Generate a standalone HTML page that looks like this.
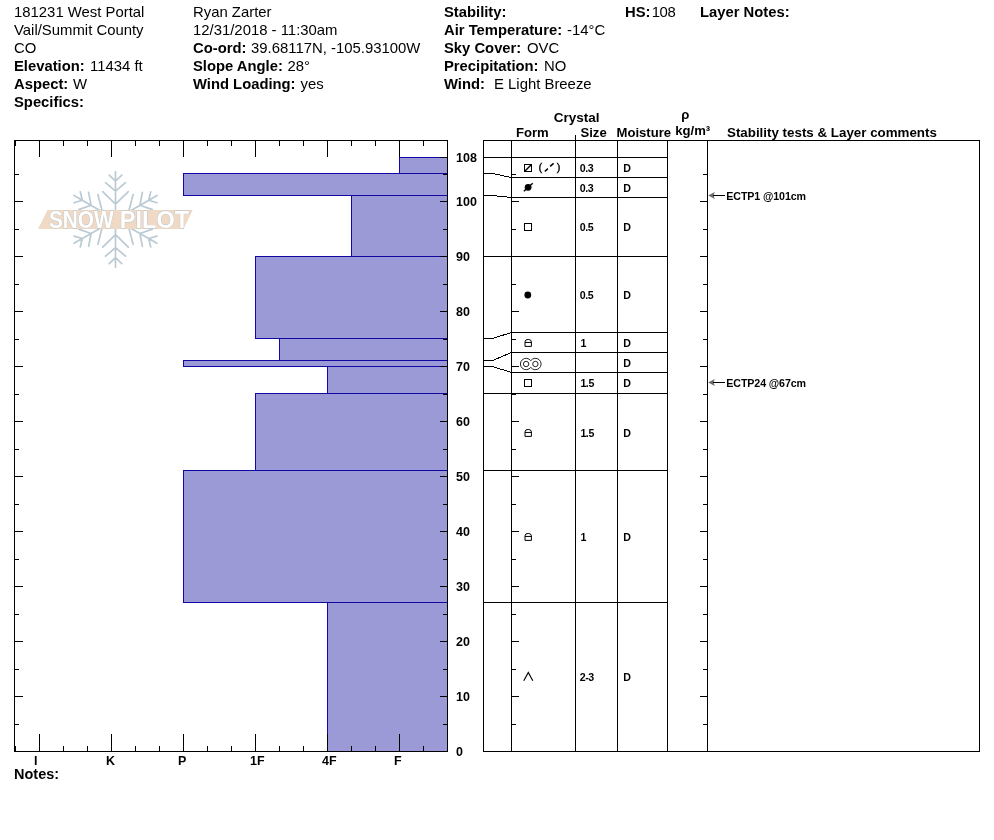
<!DOCTYPE html>
<html lang="en"><head><meta charset="utf-8"><title>Snow Profile</title>
<style>
html,body{margin:0;padding:0;background:#fff;overflow:hidden}
svg{display:block;position:absolute;left:0;top:0}
text{font-family:"Liberation Sans",Arial,Helvetica,sans-serif;fill:#000}
.h{font-size:14.9px}
.hb{font-size:14.8px;font-weight:bold}
.ax{font-size:12.5px;font-weight:bold}
.th{font-size:13.1px;font-weight:bold}
.c{font-size:10.67px;font-weight:bold;letter-spacing:-0.45px}
.n{font-size:10.67px;font-weight:bold;letter-spacing:-0.1px}
.ln{stroke:#000;stroke-width:1;shape-rendering:crispEdges;fill:none}
.bar{fill:#9b99d6;stroke:#1008a0;stroke-width:1;shape-rendering:crispEdges}
.sym{stroke:#000;stroke-width:1;fill:none}
</style></head><body>
<svg width="994" height="840" viewBox="0 0 994 840">
<rect x="0" y="0" width="994" height="840" fill="#fff"/>
<text transform="translate(14 16.8) scale(1 1.045)" class="h">181231 West Portal</text>
<text transform="translate(14 34.8) scale(1 1.045)" class="h">Vail/Summit County</text>
<text transform="translate(14 52.8) scale(1 1.045)" class="h">CO</text>
<text transform="translate(14 70.8) scale(1 1.045)" class="hb">Elevation:</text>
<text transform="translate(90 70.8) scale(1 1.045)" class="h">11434 ft</text>
<text transform="translate(14 88.8) scale(1 1.045)" class="hb">Aspect:</text>
<text transform="translate(73 88.8) scale(1 1.045)" class="h">W</text>
<text transform="translate(14 106.8) scale(1 1.045)" class="hb">Specifics:</text>
<text transform="translate(193 16.8) scale(1 1.045)" class="h">Ryan Zarter</text>
<text transform="translate(193 34.8) scale(1 1.045)" class="h">12/31/2018 - 11:30am</text>
<text transform="translate(193 52.8) scale(1 1.045)" class="hb">Co-ord:</text>
<text transform="translate(251 52.8) scale(1 1.045)" class="h">39.68117N, -105.93100W</text>
<text transform="translate(193 70.8) scale(1 1.045)" class="hb">Slope Angle:</text>
<text transform="translate(287.5 70.8) scale(1 1.045)" class="h">28°</text>
<text transform="translate(193 88.8) scale(1 1.045)" class="hb">Wind Loading:</text>
<text transform="translate(300.5 88.8) scale(1 1.045)" class="h">yes</text>
<text transform="translate(444 16.8) scale(1 1.045)" class="hb">Stability:</text>
<text transform="translate(444 34.8) scale(1 1.045)" class="hb">Air Temperature:</text>
<text transform="translate(567 34.8) scale(1 1.045)" class="h">-14°C</text>
<text transform="translate(444 52.8) scale(1 1.045)" class="hb">Sky Cover:</text>
<text transform="translate(527 52.8) scale(1 1.045)" class="h">OVC</text>
<text transform="translate(444 70.8) scale(1 1.045)" class="hb">Precipitation:</text>
<text transform="translate(544 70.8) scale(1 1.045)" class="h">NO</text>
<text transform="translate(444 88.8) scale(1 1.045)" class="hb">Wind:</text>
<text transform="translate(494 88.8) scale(1 1.045)" class="h">E Light Breeze</text>
<text transform="translate(625 16.8) scale(1 1.045)" class="hb">HS:</text>
<text transform="translate(651.7 16.8) scale(1 1.045)" class="h" style="letter-spacing:-0.4px">108</text>
<text transform="translate(700 16.8) scale(1 1.045)" class="hb">Layer Notes:</text>
<g stroke="#bccad3" stroke-width="1.7" stroke-linecap="round" fill="none">
<g transform="translate(115.5 219.4) rotate(0)">
<path d="M0,-3 V-47.9 M0,-38.3 L-6.3,-44.3 M0,-38.3 L6.3,-44.3 M0,-28.2 L-10,-36.8 M0,-28.2 L10,-36.8 M0,-15.2 L-12.8,-27.7 M0,-15.2 L12.8,-27.7"/>
</g>
<g transform="translate(115.5 219.4) rotate(60)">
<path d="M0,-3 V-47.9 M0,-38.3 L-6.3,-44.3 M0,-38.3 L6.3,-44.3 M0,-28.2 L-10,-36.8 M0,-28.2 L10,-36.8 M0,-15.2 L-12.8,-27.7 M0,-15.2 L12.8,-27.7"/>
</g>
<g transform="translate(115.5 219.4) rotate(120)">
<path d="M0,-3 V-47.9 M0,-38.3 L-6.3,-44.3 M0,-38.3 L6.3,-44.3 M0,-28.2 L-10,-36.8 M0,-28.2 L10,-36.8 M0,-15.2 L-12.8,-27.7 M0,-15.2 L12.8,-27.7"/>
</g>
<g transform="translate(115.5 219.4) rotate(180)">
<path d="M0,-3 V-47.9 M0,-38.3 L-6.3,-44.3 M0,-38.3 L6.3,-44.3 M0,-28.2 L-10,-36.8 M0,-28.2 L10,-36.8 M0,-15.2 L-12.8,-27.7 M0,-15.2 L12.8,-27.7"/>
</g>
<g transform="translate(115.5 219.4) rotate(240)">
<path d="M0,-3 V-47.9 M0,-38.3 L-6.3,-44.3 M0,-38.3 L6.3,-44.3 M0,-28.2 L-10,-36.8 M0,-28.2 L10,-36.8 M0,-15.2 L-12.8,-27.7 M0,-15.2 L12.8,-27.7"/>
</g>
<g transform="translate(115.5 219.4) rotate(300)">
<path d="M0,-3 V-47.9 M0,-38.3 L-6.3,-44.3 M0,-38.3 L6.3,-44.3 M0,-28.2 L-10,-36.8 M0,-28.2 L10,-36.8 M0,-15.2 L-12.8,-27.7 M0,-15.2 L12.8,-27.7"/>
</g>
</g>
<polygon points="47.5,210 192.7,210 183.6,229 38,229" fill="#f0dac6"/>
<text transform="translate(0 227.5) scale(1 1.15)" y="0" style="font-size:20px;font-weight:bold;fill:#fff;stroke:#b4c0ca;stroke-width:0.7px;paint-order:stroke"><tspan x="48.9" textLength="64.8" lengthAdjust="spacingAndGlyphs">SNOW</tspan> <tspan x="119.8" textLength="69.3" lengthAdjust="spacingAndGlyphs">PILOT</tspan></text>
<rect class="bar" x="399.5" y="157.5" width="48" height="16"/>
<rect class="bar" x="183.5" y="173.5" width="264" height="22"/>
<rect class="bar" x="351.5" y="195.5" width="96" height="61"/>
<rect class="bar" x="255.5" y="256.5" width="192" height="82"/>
<rect class="bar" x="279.5" y="338.5" width="168" height="22"/>
<rect class="bar" x="183.5" y="360.5" width="264" height="6"/>
<rect class="bar" x="327.5" y="366.5" width="120" height="27"/>
<rect class="bar" x="255.5" y="393.5" width="192" height="77"/>
<rect class="bar" x="183.5" y="470.5" width="264" height="132"/>
<rect class="bar" x="327.5" y="602.5" width="120" height="149"/>
<path class="ln" d="M14.5,140.5 H447.5 V751.5 H14.5 Z M15.5,141 v5 M15.5,751 v-5 M39.5,141 v16 M39.5,751 v-17 M63.5,141 v5 M63.5,751 v-5 M87.5,141 v5 M87.5,751 v-5 M111.5,141 v16 M111.5,751 v-17 M135.5,141 v5 M135.5,751 v-5 M159.5,141 v5 M159.5,751 v-5 M183.5,141 v16 M183.5,751 v-17 M207.5,141 v5 M207.5,751 v-5 M231.5,141 v5 M231.5,751 v-5 M255.5,141 v16 M255.5,751 v-17 M279.5,141 v5 M279.5,751 v-5 M303.5,141 v5 M303.5,751 v-5 M327.5,141 v16 M327.5,751 v-17 M351.5,141 v5 M351.5,751 v-5 M375.5,141 v5 M375.5,751 v-5 M399.5,141 v16 M399.5,751 v-17 M423.5,141 v5 M423.5,751 v-5 M15,751.5 h8 M447,751.5 h-7 M15,724.5 h4 M447,724.5 h-4 M15,696.5 h8 M447,696.5 h-7 M15,669.5 h4 M447,669.5 h-4 M15,641.5 h8 M447,641.5 h-7 M15,614.5 h4 M447,614.5 h-4 M15,586.5 h8 M447,586.5 h-7 M15,559.5 h4 M447,559.5 h-4 M15,531.5 h8 M447,531.5 h-7 M15,504.5 h4 M447,504.5 h-4 M15,476.5 h8 M447,476.5 h-7 M15,449.5 h4 M447,449.5 h-4 M15,421.5 h8 M447,421.5 h-7 M15,394.5 h4 M447,394.5 h-4 M15,366.5 h8 M447,366.5 h-7 M15,339.5 h4 M447,339.5 h-4 M15,311.5 h8 M447,311.5 h-7 M15,284.5 h4 M447,284.5 h-4 M15,256.5 h8 M447,256.5 h-7 M15,229.5 h4 M447,229.5 h-4 M15,201.5 h8 M447,201.5 h-7 M15,174.5 h4 M447,174.5 h-4 M447,157.5 h-7"/>
<text transform="translate(456.1 755.5) scale(1 1.09)" class="ax">0</text>
<text transform="translate(456.1 700.5) scale(1 1.09)" class="ax">10</text>
<text transform="translate(456.1 645.5) scale(1 1.09)" class="ax">20</text>
<text transform="translate(456.1 590.5) scale(1 1.09)" class="ax">30</text>
<text transform="translate(456.1 535.5) scale(1 1.09)" class="ax">40</text>
<text transform="translate(456.1 480.5) scale(1 1.09)" class="ax">50</text>
<text transform="translate(456.1 425.5) scale(1 1.09)" class="ax">60</text>
<text transform="translate(456.1 370.5) scale(1 1.09)" class="ax">70</text>
<text transform="translate(456.1 315.5) scale(1 1.09)" class="ax">80</text>
<text transform="translate(456.1 260.5) scale(1 1.09)" class="ax">90</text>
<text transform="translate(456.1 205.5) scale(1 1.09)" class="ax">100</text>
<text transform="translate(456.1 161.5) scale(1 1.09)" class="ax">108</text>
<text transform="translate(34 764.8) scale(1 1.09)" class="ax">I</text>
<text transform="translate(106 764.8) scale(1 1.09)" class="ax">K</text>
<text transform="translate(178 764.8) scale(1 1.09)" class="ax">P</text>
<text transform="translate(250 764.8) scale(1 1.09)" class="ax">1F</text>
<text transform="translate(322 764.8) scale(1 1.09)" class="ax">4F</text>
<text transform="translate(394 764.8) scale(1 1.09)" class="ax">F</text>
<text transform="translate(14 779.2) scale(1 1.045)" class="hb" style="font-size:14.5px">Notes:</text>
<path class="ln" d="M483.5,140.5 H979.5 V751.5 H483.5 Z M511.5,140 V752 M575.5,135 V752 M617.5,140 V752 M667.5,140 V752 M707.5,140 V752 M484,157.5 H492.5 L511.5,157.5 H667.5 M484,173.5 H492.5 L511.5,177.5 H667.5 M484,195.5 H492.5 L511.5,197.5 H667.5 M484,256.5 H492.5 L511.5,256.5 H667.5 M484,338.5 H492.5 L511.5,332.5 H667.5 M484,360.5 H492.5 L511.5,352.5 H667.5 M484,366.5 H492.5 L511.5,372.5 H667.5 M484,393.5 H492.5 L511.5,393.5 H667.5 M484,470.5 H492.5 L511.5,470.5 H667.5 M484,602.5 H492.5 L511.5,602.5 H667.5 M512,751.5 h7 M707,751.5 h-7 M512,724.5 h4 M707,724.5 h-4 M512,696.5 h7 M707,696.5 h-7 M512,669.5 h4 M707,669.5 h-4 M512,641.5 h7 M707,641.5 h-7 M512,614.5 h4 M707,614.5 h-4 M512,586.5 h7 M707,586.5 h-7 M512,559.5 h4 M707,559.5 h-4 M512,531.5 h7 M707,531.5 h-7 M512,504.5 h4 M707,504.5 h-4 M512,476.5 h7 M707,476.5 h-7 M512,449.5 h4 M707,449.5 h-4 M512,421.5 h7 M707,421.5 h-7 M512,394.5 h4 M707,394.5 h-4 M512,366.5 h7 M707,366.5 h-7 M512,339.5 h4 M707,339.5 h-4 M512,311.5 h7 M707,311.5 h-7 M512,284.5 h4 M707,284.5 h-4 M512,256.5 h7 M707,256.5 h-7 M512,229.5 h4 M707,229.5 h-4 M512,201.5 h7 M707,201.5 h-7 M512,174.5 h4 M707,174.5 h-4"/>
<text x="553.7" y="121.7" class="th" style="font-size:13.5px">Crystal</text>
<text x="516" y="136.7" class="th">Form</text>
<text x="580.5" y="136.7" class="th">Size</text>
<text x="616.5" y="136.7" class="th">Moisture</text>
<text x="681.3" y="118.6" class="th">ρ</text>
<text x="675.3" y="135" class="th">kg/m³</text>
<text x="727" y="136.7" class="th" style="font-size:13.35px">Stability tests &amp; Layer comments</text>
<text x="579.7" y="172" class="c">0.3</text>
<text x="623.2" y="172" class="c">D</text>
<rect class="sym" shape-rendering="crispEdges" x="524.5" y="164.5" width="7" height="7"/>
<path class="sym" style="stroke-width:1.4" d="M524.5,171.5 L531.5,164.5"/>
<text x="538.6" y="170.7" class="c" style="font-weight:normal;font-size:11px;stroke:#000;stroke-width:0.35px">(</text>
<text x="556.7" y="170.7" class="c" style="font-weight:normal;font-size:11px;stroke:#000;stroke-width:0.35px">)</text>
<path class="sym" style="stroke-width:1.5" d="M544.8,171.5 l3.1,-2.9 M550.1,166.4 l3.5,-3.0"/>
<text x="579.7" y="192" class="c">0.3</text>
<text x="623.2" y="192" class="c">D</text>
<circle cx="528.1" cy="187.3" r="3.4" fill="#000"/>
<path class="sym" style="stroke-width:1.5" d="M523.9,191.3 L532.7,183.3"/>
<text x="579.7" y="231.2" class="c">0.5</text>
<text x="623.2" y="231.2" class="c">D</text>
<rect class="sym" shape-rendering="crispEdges" x="524.5" y="223.5" width="7" height="7"/>
<text x="579.7" y="298.9" class="c">0.5</text>
<text x="623.2" y="298.9" class="c">D</text>
<circle cx="527.8" cy="295" r="3.4" fill="#000"/>
<text x="580.4" y="346.8" class="c">1</text>
<text x="623.2" y="346.8" class="c">D</text>
<path class="sym" d="M525,346.4 V341.9 A3.2,2.5 0 0 1 531.4,341.9 V346.4 Z M525,342.45 H531.4"/>
<text x="623.2" y="366.8" class="c">D</text>
<g class="sym" style="stroke-width:0.85"><circle cx="526.1" cy="364" r="2.7"/><circle cx="535.4" cy="364" r="2.7"/>
<path d="M530.75,360.7 A5.7,5.7 0 1 0 530.75,367.3 A5.7,5.7 0 1 0 530.75,360.7"/></g>
<text x="580.4" y="386.5" class="c">1.5</text>
<text x="623.2" y="386.5" class="c">D</text>
<rect class="sym" shape-rendering="crispEdges" x="524.5" y="379.5" width="7" height="7"/>
<text x="580.4" y="436.7" class="c">1.5</text>
<text x="623.2" y="436.7" class="c">D</text>
<path class="sym" d="M525,436.4 V431.9 A3.2,2.5 0 0 1 531.4,431.9 V436.4 Z M525,432.45 H531.4"/>
<text x="580.4" y="541" class="c">1</text>
<text x="623.2" y="541" class="c">D</text>
<path class="sym" d="M525,540.4 V535.9 A3.2,2.5 0 0 1 531.4,535.9 V540.4 Z M525,536.45 H531.4"/>
<text x="579.7" y="681" class="c">2-3</text>
<text x="623.2" y="681" class="c">D</text>
<path class="sym" style="stroke-width:1.15" d="M523.8,680.7 L528.3,672.4000000000001 L532.8,680.7"/>
<path d="M708.2,195.5 l6.6,-3.6 l-1.3,3.6 l1.3,3.6 z" fill="#6c6c6c"/>
<path class="ln" d="M713,195.5 H725"/>
<text x="726.3" y="199.9" class="n">ECTP1 @101cm</text>
<path d="M708.2,382.5 l6.6,-3.6 l-1.3,3.6 l1.3,3.6 z" fill="#6c6c6c"/>
<path class="ln" d="M713,382.5 H725"/>
<text x="726.3" y="386.9" class="n">ECTP24 @67cm</text>
</svg>
</body></html>
